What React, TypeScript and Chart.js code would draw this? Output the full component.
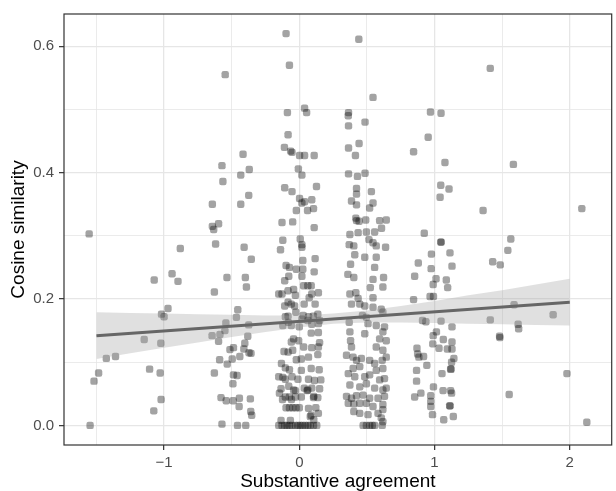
import React, { useEffect, useRef } from 'react';
import { Chart, registerables } from 'chart.js';

Chart.register(...registerables);

const FONT = "'Liberation Sans', Arial, sans-serif";

// Axis ticks / grid
const xGridValues = [-1.5, -1, -0.5, 0, 0.5, 1, 1.5, 2];
const xTickLabels = ['', '\u22121', '', '0', '', '1', '', '2'];
const yGridValues = [0, 0.1, 0.2, 0.3, 0.4, 0.5, 0.6];
const yTickLabels = ['0.0', '', '0.2', '', '0.4', '', '0.6'];
const xRange = [-1.74, 2.31];
const yRange = [-0.031, 0.651];

// Linear fit and its confidence band
const fitX = [-1.5, 2];
const fitY = [0.142, 0.195];
const bandX = [-1.5, -1.25, -1, -0.75, -0.5, -0.25, 0, 0.25, 0.5, 0.75, 1, 1.25, 1.5, 1.75, 2];
const bandUpper = [0.179, 0.178, 0.177, 0.176, 0.175, 0.174, 0.174, 0.177, 0.182, 0.189, 0.197, 0.206, 0.214, 0.223, 0.232];
const bandLower = [0.105, 0.114, 0.123, 0.131, 0.140, 0.148, 0.155, 0.161, 0.163, 0.163, 0.162, 0.161, 0.160, 0.159, 0.158];

// Jittered observations [agreement, cosine similarity]
const groupNeg15: number[][] = [
  [-1.554, 0.303], [-1.427, 0.106], [-1.359, 0.109], [-1.484, 0.083], [-1.518, 0.070], [-1.547, 0.0],
];
const groupNeg1: number[][] = [
  [-1.147, 0.136], [-1.107, 0.089], [-1.073, 0.230], [-1.076, 0.023], [-1.029, 0.083], [-1.022, 0.041],
  [-1.024, 0.130], [-1.019, 0.176], [-1.0, 0.172], [-0.971, 0.185], [-0.941, 0.240], [-0.897, 0.228], [-0.88, 0.280],
];
const groupNeg05: number[][] = [
  [-0.548, 0.555], [-0.416, 0.429], [-0.572, 0.411], [-0.37, 0.405], [-0.433, 0.396], [-0.565, 0.386],
  [-0.374, 0.364], [-0.643, 0.350], [-0.433, 0.350], [-0.597, 0.319], [-0.643, 0.315], [-0.633, 0.310],
  [-0.619, 0.287], [-0.408, 0.282], [-0.355, 0.263], [-0.535, 0.234], [-0.399, 0.234], [-0.391, 0.219],
  [-0.628, 0.211], [-0.455, 0.183], [-0.465, 0.171], [-0.543, 0.162], [-0.374, 0.159], [-0.55, 0.150],
  [-0.645, 0.142], [-0.587, 0.144], [-0.381, 0.141], [-0.597, 0.133], [-0.403, 0.130], [-0.487, 0.123],
  [-0.513, 0.120], [-0.41, 0.121], [-0.372, 0.115], [-0.357, 0.114], [-0.44, 0.109], [-0.496, 0.105],
  [-0.589, 0.104], [-0.533, 0.097], [-0.628, 0.083], [-0.487, 0.080], [-0.46, 0.079], [-0.491, 0.066],
  [-0.579, 0.044], [-0.54, 0.039], [-0.489, 0.039], [-0.443, 0.043], [-0.362, 0.042], [-0.445, 0.030],
  [-0.359, 0.022], [-0.352, 0.016], [-0.572, 0.002], [-0.457, 0.0], [-0.396, 0.0],
];
const group0: number[][] = [
  [-0.098, 0.620], [-0.073, 0.570], [0.039, 0.502], [0.054, 0.495], [-0.088, 0.495], [-0.083, 0.460],
  [-0.11, 0.440], [-0.064, 0.434], [-0.054, 0.432], [0.002, 0.427], [0.039, 0.427], [0.11, 0.427],
  [-0.007, 0.406], [0.019, 0.396], [0.127, 0.378], [-0.108, 0.376], [-0.054, 0.370], [0.002, 0.359],
  [0.019, 0.352], [0.039, 0.354], [0.092, 0.357], [-0.022, 0.340], [0.061, 0.340], [0.105, 0.343],
  [-0.128, 0.321], [-0.049, 0.322], [0.11, 0.313], [-0.122, 0.293], [0.007, 0.295], [0.019, 0.286],
  [0.019, 0.282], [-0.139, 0.278], [0.117, 0.264], [0.026, 0.261], [-0.098, 0.253], [-0.073, 0.250],
  [-0.022, 0.247], [0.026, 0.247], [0.11, 0.243], [-0.078, 0.236], [0.019, 0.236], [-0.108, 0.229],
  [0.032, 0.221], [0.063, 0.221], [0.088, 0.221], [-0.083, 0.213], [-0.042, 0.215], [0.141, 0.21],
  [-0.128, 0.208], [-0.152, 0.208], [-0.029, 0.206], [0.073, 0.202], [0.092, 0.208], [-0.108, 0.189],
  [-0.083, 0.195], [-0.059, 0.192], [-0.035, 0.189], [0.036, 0.192], [0.117, 0.192], [0.137, 0.176],
  [-0.103, 0.172], [-0.083, 0.173], [0.019, 0.168], [0.068, 0.172], [-0.059, 0.158], [-0.122, 0.158],
  [0.092, 0.160], [0.141, 0.161], [0.088, 0.146], [0.141, 0.147], [-0.042, 0.137], [-0.005, 0.134],
  [-0.059, 0.132], [-0.113, 0.117], [-0.083, 0.116], [-0.049, 0.119], [0.032, 0.124], [0.092, 0.123],
  [0.141, 0.124], [0.068, 0.108], [0.137, 0.112], [0.015, 0.105], [-0.022, 0.104], [-0.132, 0.098],
  [-0.103, 0.091], [-0.073, 0.088], [0.015, 0.087], [0.088, 0.090], [0.147, 0.088], [-0.152, 0.077],
  [-0.122, 0.076], [-0.103, 0.073], [-0.054, 0.077], [-0.01, 0.073], [0.068, 0.073], [0.112, 0.071],
  [-0.135, 0.058], [-0.078, 0.062], [-0.042, 0.056], [0.037, 0.059], [0.063, 0.056], [0.092, 0.059],
  [-0.103, 0.045], [-0.073, 0.045], [-0.029, 0.045], [0.015, 0.045], [0.105, 0.044], [0.137, 0.044],
  [-0.098, 0.028], [-0.073, 0.028], [-0.049, 0.028], [-0.025, 0.028], [0.0, 0.028], [0.068, 0.027],
  [0.122, 0.028], [0.088, 0.016], [0.141, 0.019], [-0.135, 0.008], [-0.066, 0.008],
  [-0.026, 0.179], [0.029, 0.174], [0.104, 0.173], [0.15, 0.166], [-0.081, 0.163], [0.0, 0.156],
  [0.063, 0.166], [0.15, 0.131], [0.159, 0.072], [0.15, 0.058], [-0.029, 0.055], [0.058, 0.055],
  [-0.147, 0.051], [0.107, 0.046], [-0.124, 0.041], [-0.058, 0.041], [0.081, 0.014], [0.107, 0.009],
  [-0.152, 0], [-0.128, 0], [-0.108, 0], [-0.091, 0], [-0.073, 0], [-0.054, 0], [-0.029, 0], [-0.01, 0],
  [0.007, 0], [0.024, 0], [0.044, 0], [0.063, 0], [0.081, 0], [0.105, 0], [0.129, 0],
];
const group05: number[][] = [
  [0.44, 0.611], [0.545, 0.519], [0.364, 0.495], [0.362, 0.490], [0.364, 0.474], [0.486, 0.480],
  [0.364, 0.439], [0.442, 0.446], [0.415, 0.427], [0.364, 0.398], [0.43, 0.394], [0.486, 0.399],
  [0.423, 0.375], [0.423, 0.366], [0.533, 0.370], [0.386, 0.355], [0.423, 0.349], [0.545, 0.352],
  [0.52, 0.344], [0.418, 0.328], [0.423, 0.324], [0.442, 0.323], [0.491, 0.325], [0.594, 0.324],
  [0.643, 0.325], [0.608, 0.312], [0.435, 0.305], [0.374, 0.302], [0.496, 0.306], [0.557, 0.306],
  [0.515, 0.294], [0.545, 0.289], [0.369, 0.286], [0.403, 0.284], [0.569, 0.284], [0.638, 0.282],
  [0.41, 0.270], [0.484, 0.266], [0.569, 0.266], [0.379, 0.255], [0.557, 0.250], [0.359, 0.239],
  [0.403, 0.234], [0.545, 0.231], [0.623, 0.234], [0.525, 0.218], [0.618, 0.219], [0.418, 0.210],
  [0.374, 0.208], [0.545, 0.202], [0.435, 0.201], [0.386, 0.192], [0.447, 0.192], [0.484, 0.189],
  [0.545, 0.187], [0.606, 0.184], [0.618, 0.179], [0.467, 0.174], [0.496, 0.171], [0.369, 0.163],
  [0.508, 0.161], [0.569, 0.158], [0.63, 0.156], [0.618, 0.148], [0.374, 0.148], [0.484, 0.145],
  [0.379, 0.134], [0.594, 0.137], [0.643, 0.134], [0.386, 0.124], [0.569, 0.124], [0.618, 0.119],
  [0.349, 0.111], [0.398, 0.108], [0.643, 0.108], [0.613, 0.103], [0.423, 0.103], [0.459, 0.106],
  [0.52, 0.103], [0.557, 0.098], [0.398, 0.090], [0.447, 0.093], [0.569, 0.087], [0.618, 0.090],
  [0.362, 0.082], [0.41, 0.077], [0.484, 0.077], [0.52, 0.080], [0.594, 0.072], [0.63, 0.074],
  [0.374, 0.064], [0.447, 0.061], [0.496, 0.066], [0.557, 0.059], [0.618, 0.056], [0.643, 0.059],
  [0.349, 0.046], [0.386, 0.043], [0.423, 0.047], [0.472, 0.048], [0.52, 0.043], [0.582, 0.043],
  [0.63, 0.046], [0.362, 0.035], [0.403, 0.034], [0.447, 0.035], [0.496, 0.035], [0.545, 0.030],
  [0.618, 0.033], [0.618, 0.025], [0.403, 0.022], [0.447, 0.019], [0.508, 0.017], [0.582, 0.019],
  [0.606, 0.012], [0.618, 0.006], [0.472, 0], [0.496, 0], [0.52, 0], [0.54, 0], [0.557, 0], [0.613, 0],
];
const group1: number[][] = [
  [0.97, 0.496], [1.048, 0.494], [0.953, 0.456], [0.845, 0.433], [1.077, 0.416], [1.046, 0.380],
  [1.107, 0.374], [1.041, 0.361], [0.924, 0.304], [1.046, 0.290], [1.049, 0.290], [0.977, 0.271],
  [1.114, 0.273], [0.88, 0.257], [0.975, 0.248], [1.129, 0.252], [0.853, 0.236], [1.011, 0.232],
  [1.087, 0.230], [0.99, 0.223], [1.097, 0.218], [0.845, 0.199], [0.967, 0.204], [0.992, 0.204],
  [0.911, 0.166], [0.936, 0.164], [1.048, 0.165], [1.129, 0.156], [1.014, 0.148], [0.99, 0.142],
  [1.065, 0.136], [0.987, 0.129], [1.129, 0.132], [0.87, 0.122], [0.875, 0.113], [0.884, 0.108],
  [1.033, 0.122], [1.095, 0.121], [1.129, 0.121], [0.919, 0.109], [1.143, 0.106], [1.126, 0.100],
  [0.943, 0.095], [1.119, 0.089], [1.122, 0.089], [1.055, 0.082], [0.867, 0.087], [0.867, 0.070],
  [0.992, 0.061], [1.063, 0.055], [1.119, 0.055], [1.126, 0.051], [0.899, 0.051], [0.853, 0.045],
  [0.972, 0.047], [0.972, 0.038], [1.112, 0.031], [1.115, 0.031], [0.972, 0.030], [0.985, 0.017],
  [1.068, 0.009], [1.139, 0.014],
];
const group15to2: number[][] = [
  [1.412, 0.565], [1.583, 0.413], [1.359, 0.340], [2.089, 0.343], [1.564, 0.295], [1.542, 0.277],
  [1.43, 0.259], [1.486, 0.254], [1.588, 0.191], [1.877, 0.175], [1.412, 0.167], [1.618, 0.160],
  [1.622, 0.153], [1.481, 0.141], [1.483, 0.139], [1.979, 0.082], [1.552, 0.049], [2.126, 0.005],
];

const allPoints = [...groupNeg15, ...groupNeg1, ...groupNeg05, ...group0, ...group05, ...group1, ...group15to2];

const panelBorder = {
  id: 'panelBorder',
  afterDatasetsDraw(chart: any) {
    const { ctx, chartArea: a } = chart;
    ctx.save();
    ctx.strokeStyle = '#333333';
    ctx.lineWidth = 1.2;
    ctx.strokeRect(a.left, a.top, a.right - a.left, a.bottom - a.top);
    ctx.restore();
  },
};

export default function App() {
  const ref = useRef<HTMLCanvasElement | null>(null);

  useEffect(() => {
    if (!ref.current) return;
    const chart = new Chart(ref.current, {
      type: 'scatter',
      data: {
        datasets: [
          {
            type: 'line',
            data: fitX.map((x, i) => ({ x, y: fitY[i] })),
            borderColor: '#666666',
            borderWidth: 3,
            pointRadius: 0,
            fill: false,
          } as any,
          {
            type: 'line',
            data: bandX.map((x, i) => ({ x, y: bandUpper[i] })),
            borderColor: 'rgba(0,0,0,0)',
            borderWidth: 0,
            pointRadius: 0,
            backgroundColor: 'rgba(160,160,160,0.33)',
            fill: '+1',
          } as any,
          {
            type: 'line',
            data: bandX.map((x, i) => ({ x, y: bandLower[i] })),
            borderColor: 'rgba(0,0,0,0)',
            borderWidth: 0,
            pointRadius: 0,
            fill: false,
          } as any,
          {
            type: 'scatter',
            data: allPoints.map(([x, y]) => ({ x, y })),
            pointStyle: 'rectRounded',
            pointRadius: 4.3,
            pointHoverRadius: 4.3,
            backgroundColor: 'rgba(0,0,0,0.36)',
            borderWidth: 0,
          } as any,
        ],
      },
      options: {
        animation: false,
        responsive: false,
        events: [],
        layout: { padding: { top: 12, right: 1.5, left: 0, bottom: 0 } },
        plugins: { legend: { display: false }, tooltip: { enabled: false } },
        scales: {
          x: {
            type: 'linear',
            min: xRange[0],
            max: xRange[1],
            afterBuildTicks: (s: any) => {
              s.ticks = xGridValues.map((v) => ({ value: v }));
            },
            afterFit: (s: any) => {
              s.height = 46;
            },
            ticks: {
              autoSkip: false,
              maxRotation: 0,
              padding: 4,
              color: '#4D4D4D',
              font: { family: FONT, size: 15 },
              callback: (_v: any, i: number) => xTickLabels[i],
            },
            grid: {
              color: '#E6E6E6',
              lineWidth: (c: any) => (xTickLabels[c.index] ? 1.3 : 0.8),
              tickColor: (c: any) => (xTickLabels[c.index] ? '#333333' : 'rgba(0,0,0,0)'),
              tickWidth: 1.2,
              tickLength: 5,
              drawTicks: true,
            },
            border: { display: false },
            title: {
              display: true,
              text: 'Substantive agreement',
              color: '#000000',
              font: { family: FONT, size: 19, lineHeight: 1 },
              padding: { top: 0, bottom: -0.5 },
            },
          },
          y: {
            type: 'linear',
            min: yRange[0],
            max: yRange[1],
            afterBuildTicks: (s: any) => {
              s.ticks = yGridValues.map((v) => ({ value: v }));
            },
            afterFit: (s: any) => {
              s.width = 64;
            },
            ticks: {
              autoSkip: false,
              padding: 5,
              color: '#4D4D4D',
              font: { family: FONT, size: 15 },
              callback: (_v: any, i: number) => yTickLabels[i],
            },
            grid: {
              color: '#E6E6E6',
              lineWidth: (c: any) => (yTickLabels[c.index] ? 1.3 : 0.8),
              tickColor: (c: any) => (yTickLabels[c.index] ? '#333333' : 'rgba(0,0,0,0)'),
              tickWidth: 1.2,
              tickLength: 5,
              drawTicks: true,
            },
            border: { display: false },
            title: {
              display: true,
              text: 'Cosine similarity',
              color: '#000000',
              font: { family: FONT, size: 19, lineHeight: 1 },
              padding: { top: 9.5, bottom: 0 },
            },
          },
        },
      } as any,
      plugins: [panelBorder],
    });
    return () => chart.destroy();
  }, []);

  return (
    <div style={{ position: 'fixed', left: 0, top: 0, width: 616, height: 491, background: '#ffffff' }}>
      <canvas ref={ref} width={616} height={491} style={{ display: 'block', width: 616, height: 491 }} />
    </div>
  );
}
